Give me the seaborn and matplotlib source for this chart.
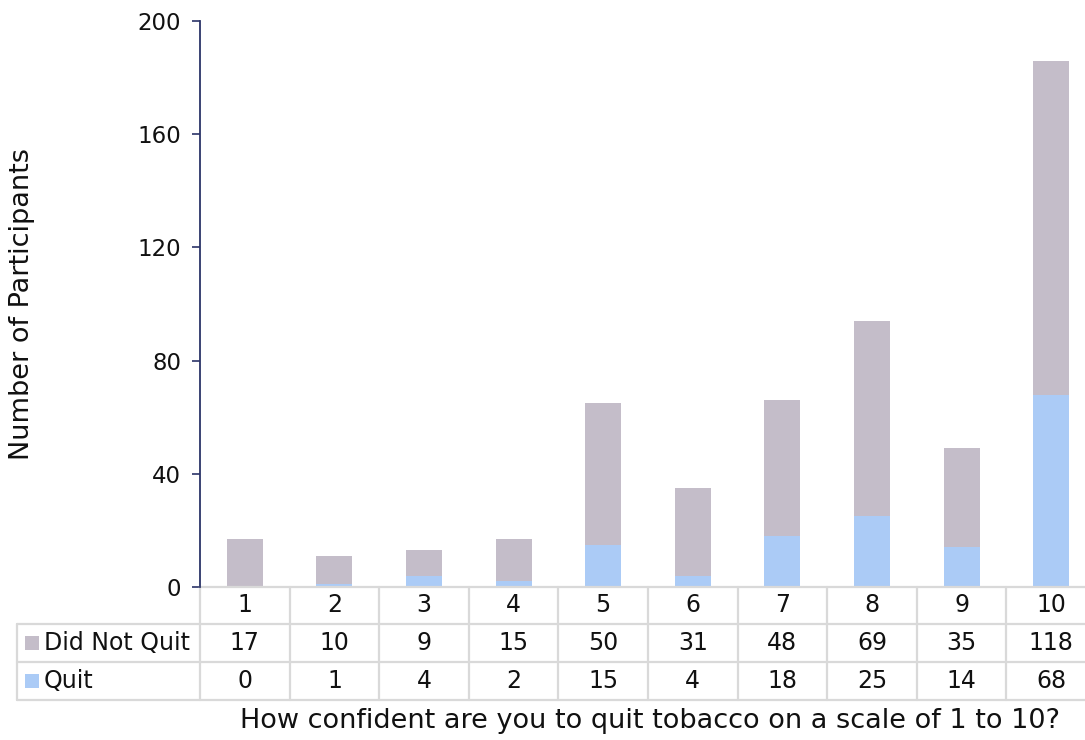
import numpy as np
import matplotlib
matplotlib.use("Agg")
import matplotlib.pyplot as plt
from matplotlib.patches import Rectangle
from matplotlib.transforms import blended_transform_factory
import seaborn as sns

# Confidence scale and participant counts
categories = ["1", "2", "3", "4", "5", "6", "7", "8", "9", "10"]
did_not_quit = [17, 10, 9, 15, 50, 31, 48, 69, 35, 118]
quit_counts = [0, 1, 4, 2, 15, 4, 18, 25, 14, 68]
series_names = ["Did Not Quit", "Quit"]
y_ticks = [0, 40, 80, 120, 160, 200]

GRAY = "#c4bdc9"
BLUE = "#abcbf6"
NAVY = "#2b3468"
GRID = "#d9d9d9"
TEXT = "#111111"

sns.set_theme(style="white")
plt.rcParams["font.family"] = ["DejaVu Sans"]
plt.rcParams["text.color"] = TEXT

fig = plt.figure(figsize=(10.85, 7.40), dpi=100)
W, H = 1085, 740
ax_left, ax_right, ax_top, ax_bottom = 200, 1096, 21, 587
ax = fig.add_axes([ax_left / W, 1 - ax_bottom / H,
                   (ax_right - ax_left) / W, (ax_bottom - ax_top) / H])
ax_w = ax_right - ax_left
ax_h = ax_bottom - ax_top

# Stacked bars: full height first, then the "Quit" part at the base
totals = np.array(did_not_quit) + np.array(quit_counts)
sns.barplot(x=categories, y=totals, order=categories, color=GRAY,
            saturation=1, width=0.4, linewidth=0, ax=ax)
sns.barplot(x=categories, y=quit_counts, order=categories, color=BLUE,
            saturation=1, width=0.4, linewidth=0, ax=ax)

ax.set_xlim(-0.5, len(categories) - 0.5)
ax.set_ylim(0, 200)
ax.set_yticks(y_ticks)
ax.set_yticklabels([str(t) for t in y_ticks], fontsize=16.5, color=TEXT)
ax.set_xticks([])
ax.tick_params(axis="y", direction="out", length=5.5, width=1.2,
               color=NAVY, pad=8, left=True)
for side in ("top", "right", "bottom"):
    ax.spines[side].set_visible(False)
ax.spines["left"].set_color(NAVY)
ax.spines["left"].set_linewidth(1.3)
ax.set_xlabel("")
ax.set_ylabel("")

# Axis titles
ax.text((22 - ax_left) / ax_w, 0.5, "Number of Participants", rotation=90,
        transform=ax.transAxes, ha="center", va="center", fontsize=19.5)
ax.text((650 - ax_left) / ax_w, (ax_bottom - 721) / ax_h,
        "How confident are you to quit tobacco on a scale of 1 to 10?",
        transform=ax.transAxes, ha="center", va="center", fontsize=19.5)

# Data table under the plot
blend = blended_transform_factory(ax.transData, ax.transAxes)
row_edges_px = [587, 624, 662, 700]
row_edges = [(ax_bottom - p) / ax_h for p in row_edges_px]
row_centers = [(row_edges[i] + row_edges[i + 1]) / 2 for i in range(3)]
label_left = (17 - ax_left) / ax_w
lw = 1.6

# horizontal rules
ax.plot([0, 1.2], [row_edges[0]] * 2, transform=ax.transAxes, color=GRID,
        lw=lw, clip_on=False)
for yv in row_edges[1:]:
    ax.plot([label_left, 1.2], [yv] * 2, transform=ax.transAxes, color=GRID,
            lw=lw, clip_on=False)
# vertical rules
for i in range(len(categories) + 1):
    ax.plot([i - 0.5, i - 0.5], [row_edges[0], row_edges[3]], transform=blend,
            color=GRID, lw=lw, clip_on=False)
ax.plot([label_left, label_left], [row_edges[1], row_edges[3]],
        transform=ax.transAxes, color=GRID, lw=lw, clip_on=False)

# header and value cells
cell_fs = 17
for i, cat in enumerate(categories):
    ax.text(i, row_centers[0], cat, transform=blend, ha="center",
            va="center", fontsize=cell_fs)
    ax.text(i, row_centers[1], str(did_not_quit[i]), transform=blend,
            ha="center", va="center", fontsize=cell_fs)
    ax.text(i, row_centers[2], str(quit_counts[i]), transform=blend,
            ha="center", va="center", fontsize=cell_fs)

# row labels with colour keys
sq_w = 14 / ax_w
sq_h = 14 / ax_h
for name, color, yc in zip(series_names, [GRAY, BLUE], row_centers[1:]):
    ax.add_patch(Rectangle(((25 - ax_left) / ax_w, yc - sq_h / 2), sq_w, sq_h,
                           transform=ax.transAxes, facecolor=color,
                           edgecolor="none", clip_on=False))
    ax.text((44 - ax_left) / ax_w, yc, name, transform=ax.transAxes,
            ha="left", va="center", fontsize=cell_fs)

fig.savefig("out.png", dpi=100)
